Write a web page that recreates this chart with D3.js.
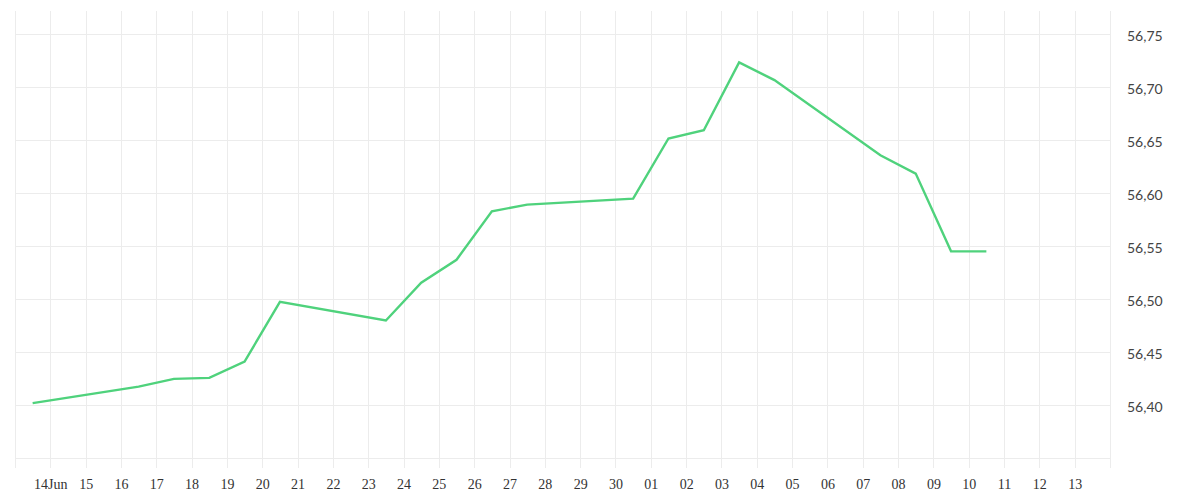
<!DOCTYPE html>
<html>
<head>
<meta charset="utf-8">
<script src="https://cdn.jsdelivr.net/npm/d3@7"></script>
<style>
  html, body { margin: 0; padding: 0; background: #fff; }
  svg { display: block; }
</style>
</head>
<body>
<svg id="chart" width="1200" height="500"></svg>
<script>
// ---- data ----
const dates = [
  "2025-06-13T12:00", "2025-06-16T12:00", "2025-06-17T12:00", "2025-06-18T12:00",
  "2025-06-19T12:00", "2025-06-20T12:00", "2025-06-23T12:00", "2025-06-24T12:00",
  "2025-06-25T12:00", "2025-06-26T12:00", "2025-06-27T12:00", "2025-06-30T12:00",
  "2025-07-01T12:00", "2025-07-02T12:00", "2025-07-03T12:00", "2025-07-04T12:00",
  "2025-07-07T12:00", "2025-07-08T12:00", "2025-07-09T12:00", "2025-07-10T12:00"
];
const values = [
  56.402, 56.4176, 56.4249, 56.4258,
  56.4412, 56.4976, 56.480, 56.5156,
  56.5373, 56.583, 56.5893, 56.595,
  56.6517, 56.6595, 56.7235, 56.7068,
  56.6359, 56.6186, 56.5452, 56.5452
];
const xDomain = ["2025-06-13T00:00", "2025-07-14T00:00"];
const xTickLabels = ["14Jun","15","16","17","18","19","20","21","22","23","24","25","26","27","28","29","30",
                     "01","02","03","04","05","06","07","08","09","10","11","12","13"];
const yDomain = [56.3408, 56.772];
const yGridValues = [56.35, 56.40, 56.45, 56.50, 56.55, 56.60, 56.65, 56.70, 56.75];
const yTickValues = [56.40, 56.45, 56.50, 56.55, 56.60, 56.65, 56.70, 56.75];

(function () {
// ---- layout ----
const pLeft = 15, pRight = 1110, pTop = 11, pBottom = 468;
const parse = d3.isoParse;
const x = d3.scaleTime().domain(xDomain.map(s => new Date(s))).range([pLeft, pRight]);
const y = d3.scaleLinear().domain(yDomain).range([pBottom, pTop]);

const svg = d3.select("#chart");
const gridColor = "#ececec";

// vertical grid lines (each day)
const dayLines = d3.timeDay.range(x.domain()[0], d3.timeDay.offset(x.domain()[1], 1));
svg.append("g").selectAll("line").data(dayLines).join("line")
  .attr("x1", d => Math.round(x(d)) + 0.5).attr("x2", d => Math.round(x(d)) + 0.5)
  .attr("y1", pTop).attr("y2", pBottom)
  .attr("stroke", gridColor).attr("stroke-width", 1);

// horizontal grid lines
svg.append("g").selectAll("line").data(yGridValues).join("line")
  .attr("x1", pLeft).attr("x2", pRight)
  .attr("y1", d => Math.round(y(d)) + 0.5).attr("y2", d => Math.round(y(d)) + 0.5)
  .attr("stroke", gridColor).attr("stroke-width", 1);

// x axis tick labels
const tickDates = d3.timeDay.range(new Date("2025-06-14T00:00"), new Date("2025-07-14T00:00"));
const xAxis = d3.axisBottom(x).tickValues(tickDates)
  .tickFormat((d, i) => xTickLabels[i]).tickSize(0).tickPadding(0);
const gx = svg.append("g").attr("transform", `translate(0,${pBottom})`).call(xAxis);
gx.select(".domain").remove();
gx.selectAll("text")
  .attr("font-family", "'Liberation Serif', 'DejaVu Serif', serif")
  .attr("font-size", 14).attr("fill", "#333")
  .attr("dy", null).attr("y", 21);

// y axis on the right
const locale = d3.formatLocale({decimal: ",", thousands: ".", grouping: [3], currency: ["", ""]});
const fmt = locale.format(".2f");
const yAxis = d3.axisRight(y).tickValues(yTickValues).tickFormat(fmt).tickSize(0).tickPadding(17);
const gy = svg.append("g").attr("transform", `translate(${pRight},0)`).call(yAxis);
gy.select(".domain").attr("stroke", gridColor).attr("d", `M0.5,${pTop + 2}V${pBottom}`);
gy.selectAll("text")
  .attr("font-family", "Lato, 'Open Sans', sans-serif")
  .attr("font-weight", 400)
  .attr("font-size", 14).attr("fill", "#444")
  .attr("dy", "0.45em");

// line
const pts = dates.map((d, i) => ({date: parse(d), value: values[i]}));
const line = d3.line().x(d => x(d.date)).y(d => y(d.value));
svg.append("path").datum(pts)
  .attr("d", line)
  .attr("fill", "none")
  .attr("stroke", "#4fd27c")
  .attr("stroke-width", 2.4)
  .attr("stroke-linejoin", "miter");
})();
</script>
</body>
</html>
